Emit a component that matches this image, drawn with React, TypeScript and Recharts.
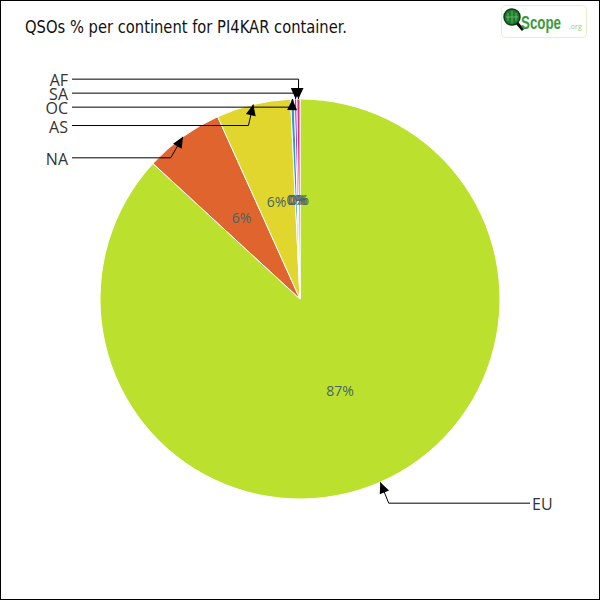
import { PieChart, Pie, Cell } from 'recharts'

const CONTINENTS = ['EU', 'NA', 'AS', 'OC', 'SA', 'AF']
const SHARES = [86.85, 6.4, 6.0, 0.3, 0.2, 0.25]
const COLORS = ['#bce02e', '#e0642e', '#e0d62e', '#2e97e0', '#b02ee0', '#e02e75']
const TITLE = 'QSOs % per continent for PI4KAR container.'

const CX = 300
const CY = 299
const R = 200
const RAD = Math.PI / 180

const data = CONTINENTS.map((name, i) => ({ name, value: SHARES[i] }))

// where each outside label ends up: small slices get stacked upwards so they don't overlap
function labelLayout() {
  const total = SHARES.reduce((a, b) => a + b, 0)
  let cum = 0
  let prevLeft = Infinity
  return SHARES.map(v => {
    const mid = 90 - (360 * (cum + v / 2)) / total
    cum += v
    const tipY = CY + R * Math.sin(-mid * RAD)
    const left = Math.cos(mid * RAD) < 0
    let y = tipY + (v / total < 0.01 ? 8 : 21)
    if (left) {
      y = Math.min(y, prevLeft - 14)
      prevLeft = y
    }
    return { y, left }
  })
}

const layout = labelLayout()

function Arrow({ x1, y1, x2, y2 }: { x1: number; y1: number; y2: number; x2: number }) {
  const a = Math.atan2(y2 - y1, x2 - x1)
  const len = 11
  const w = 5
  const bx = x2 - len * Math.cos(a)
  const by = y2 - len * Math.sin(a)
  const pts = [
    [x2, y2],
    [bx + w * Math.sin(a), by - w * Math.cos(a)],
    [bx - w * Math.sin(a), by + w * Math.cos(a)],
  ]
  return <polygon points={pts.map(p => p.join(',')).join(' ')} fill="#000" />
}

const renderLabel = (props: any) => {
  const { cx, cy, midAngle, outerRadius, percent, index } = props
  const ix = cx + (outerRadius / 2) * Math.cos(-midAngle * RAD)
  const iy = cy + (outerRadius / 2) * Math.sin(-midAngle * RAD)
  const tipX = cx + outerRadius * Math.cos(-midAngle * RAD)
  const tipY = cy + outerRadius * Math.sin(-midAngle * RAD)
  const { y, left } = layout[index]
  const elbowX = tipX + (y - tipY) * Math.cos(midAngle * RAD)
  const lineEnd = left ? 72 : 530
  return (
    <g key={`lbl-${index}`}>
      <text x={ix} y={iy} textAnchor="middle" dominantBaseline="central"
        fontFamily="Open Sans" fontSize={14} fill="#4a6464">
        {`${Math.round(percent * 100)}%`}
      </text>
      <polyline points={`${lineEnd},${y} ${elbowX},${y} ${tipX},${tipY}`}
        fill="none" stroke="#000" strokeWidth={1} />
      <Arrow x1={elbowX} y1={y} x2={tipX} y2={tipY} />
      <text x={left ? 68 : 532} y={y + 1} textAnchor={left ? 'end' : 'start'} dominantBaseline="central"
        fontFamily="Open Sans" fontSize={16} fill="#333">
        {CONTINENTS[index]}
      </text>
    </g>
  )
}

export default function App() {
  return (
    <div style={{ position: 'absolute', left: 0, top: 0, width: 600, height: 600, background: '#fff' }}>
      <div style={{ position: 'absolute', left: 0, top: 0, width: 598, height: 598, border: '1px solid #000' }} />
      <div style={{ position: 'absolute', left: 0, top: 0 }}>
        <PieChart width={600} height={600} margin={{ top: 0, right: 0, bottom: 0, left: 0 }}>
          <Pie data={data} dataKey="value" nameKey="name" cx={CX} cy={CY}
            outerRadius={R} startAngle={90} endAngle={-270}
            stroke="#fff" strokeWidth={1} label={renderLabel} labelLine={false}
            isAnimationActive={false}>
            {data.map((d, i) => <Cell key={d.name} fill={COLORS[i]} />)}
          </Pie>
        </PieChart>
      </div>
      <svg width={600} height={50} style={{ position: 'absolute', left: 0, top: 0 }}>
        <text x={25} y={33} fontFamily="DejaVu Sans Condensed" fontSize={18} fill="#111"
          textLength={322} lengthAdjust="spacingAndGlyphs">
          {TITLE}
        </text>
        <rect x={501.5} y={5.5} width={85} height={32} rx={4} fill="#fff" stroke="#e6efc8" />
        <circle cx={512} cy={17} r={8} fill="#1f7a2e" stroke="#0d3d15" strokeWidth={1.5} />
        <path d="M506 17 H518 M512 11 V23 M508 13 V21 M516 13 V21" stroke="#6fc46f" strokeWidth={0.8} />
        <line x1={517} y1={23} x2={523} y2={30} stroke="#111" strokeWidth={3} />
        <text x={521} y={29} fontFamily="Liberation Sans" fontWeight="bold" fontSize={19} fill="#3a9a3a"
          textLength={40} lengthAdjust="spacingAndGlyphs">Scope</text>
        <text x={569} y={29} fontFamily="Open Sans" fontSize={7} fill="#9bc98b">.org</text>
      </svg>
    </div>
  )
}
